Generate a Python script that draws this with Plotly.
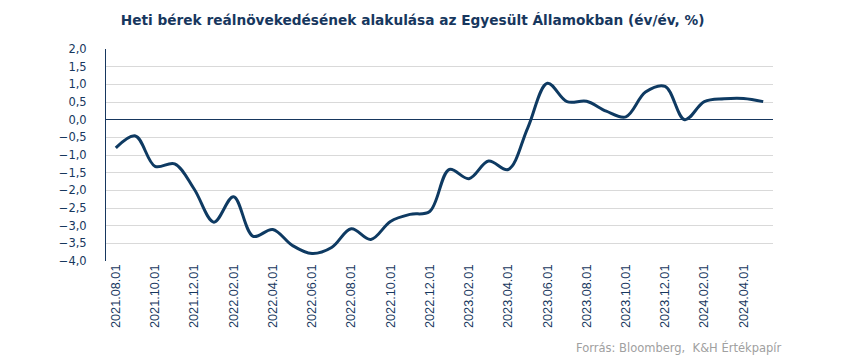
import plotly.graph_objects as go

months = ["2021.08.01", "2021.09.01", "2021.10.01", "2021.11.01", "2021.12.01",
          "2022.01.01", "2022.02.01", "2022.03.01", "2022.04.01", "2022.05.01",
          "2022.06.01", "2022.07.01", "2022.08.01", "2022.09.01", "2022.10.01",
          "2022.11.01", "2022.12.01", "2023.01.01", "2023.02.01", "2023.03.01",
          "2023.04.01", "2023.05.01", "2023.06.01", "2023.07.01", "2023.08.01",
          "2023.09.01", "2023.10.01", "2023.11.01", "2023.12.01", "2024.01.01",
          "2024.02.01", "2024.03.01", "2024.04.01", "2024.05.01"]
real_growth = [-0.80, -0.46, -1.32, -1.25, -1.97,
               -2.90, -2.18, -3.30, -3.11, -3.56,
               -3.79, -3.62, -3.09, -3.39, -2.88,
               -2.68, -2.60, -1.41, -1.67, -1.17,
               -1.41, -0.23, 1.03, 0.51, 0.52,
               0.24, 0.08, 0.78, 0.94, 0.00,
               0.51, 0.59, 0.60, 0.51]
tick_labels = months[::2]
y_ticks = [-4.0, -3.5, -3.0, -2.5, -2.0, -1.5, -1.0, -0.5, 0.0, 0.5, 1.0, 1.5, 2.0]

navy = "#0E3A62"
text_navy = "#17375E"

fig = go.Figure()
fig.add_trace(go.Scatter(
    x=months, y=real_growth, mode="lines",
    line=dict(color=navy, width=3, shape="spline", smoothing=1.0),
    showlegend=False, hoverinfo="x+y",
))

fig.update_layout(
    width=850, height=361,
    margin=dict(l=98, r=85, t=41, b=108),
    paper_bgcolor="white", plot_bgcolor="white",
    separators=", ",
    title=dict(
        text="<b>Heti bérek reálnövekedésének alakulása az Egyesült Államokban (év/év, %)</b>",
        xref="container", yref="container",
        x=0.476, xanchor="center", y=0.967, yanchor="middle",
        font=dict(family="DejaVu Sans, Verdana, sans-serif", size=13.7, color=text_navy),
    ),
    xaxis=dict(
        type="category",
        range=[-0.5, len(months) - 0.5],
        tickmode="array", tickvals=tick_labels, ticktext=tick_labels,
        tickangle=-90,
        tickfont=dict(family="Liberation Sans, Arial, sans-serif", size=12.7, color=text_navy),
        showgrid=False, showline=False, zeroline=False, ticks="",
    ),
    yaxis=dict(
        range=[-4.0, 2.0],
        tickmode="array", tickvals=y_ticks, tickformat=".1f",
        tickfont=dict(family="DejaVu Sans, Verdana, sans-serif", size=11.5, color=text_navy),
        showgrid=True, gridcolor="#D9D9D9", gridwidth=1,
        showline=True, linecolor=text_navy, linewidth=1,
        zeroline=True, zerolinecolor=text_navy, zerolinewidth=1.2,
        ticks="", ticklabelstandoff=16,
    ),
    annotations=[dict(
        text="Forrás: Bloomberg,  K&H Értékpapír",
        xref="paper", yref="paper", x=1.015, y=-0.41,
        xanchor="right", yanchor="middle", showarrow=False,
        font=dict(family="DejaVu Sans, Verdana, sans-serif", size=11.5, color="#A0A0A0"),
    )],
)

fig.write_html("out.html")
